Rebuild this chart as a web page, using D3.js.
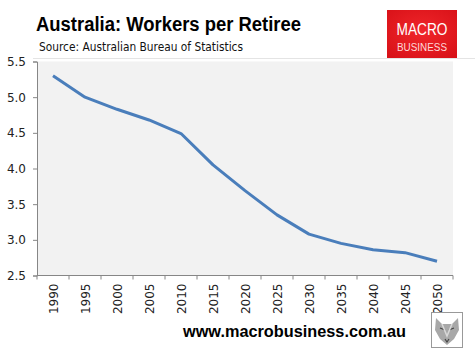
<!DOCTYPE html>
<html><head><meta charset="utf-8">
<script src="https://cdn.jsdelivr.net/npm/d3@7"></script>
<style>html,body{margin:0;padding:0;background:#fff;}svg{display:block;}</style>
</head><body>
<svg id="chart" width="475" height="356"></svg>
<script>
const years = ["1990","1995","2000","2005","2010","2015","2020","2025","2030","2035","2040","2045","2050"];
const workersPerRetiree = [5.3, 5.0, 4.83, 4.68, 4.49, 4.05, 3.69, 3.35, 3.08, 2.95, 2.86, 2.82, 2.70];
const yTicks = [2.5, 3.0, 3.5, 4.0, 4.5, 5.0, 5.5];
const titleText = "Australia: Workers per Retiree";
const sourceText = "Source: Australian Bureau of Statistics";
const footerText = "www.macrobusiness.com.au";

const svg = d3.select("#chart");
const m = {left: 37, right: 453, top: 61.5, bottom: 275.5};

const x = d3.scaleBand().domain(years).range([m.left, m.right]).padding(0);
const y = d3.scaleLinear().domain([2.5, 5.5]).range([m.bottom, m.top]);

// plot background
svg.append("rect").attr("x", m.left).attr("y", m.top).attr("width", m.right - m.left).attr("height", m.bottom - m.top).attr("fill", "#f2f2f2");

// faint separator under header
svg.append("line").attr("x1", 33).attr("x2", 475).attr("y1", 58.5).attr("y2", 58.5).attr("stroke", "#e4e4e4").attr("stroke-width", 1);

// y axis
const yAxis = d3.axisLeft(y).tickValues(yTicks).tickFormat(d3.format(".1f")).tickSize(4).tickPadding(7);
const gy = svg.append("g").attr("transform", `translate(${m.left},0)`).call(yAxis);
gy.select(".domain").attr("stroke", "#868686");
gy.selectAll(".tick line").attr("stroke", "#868686");
gy.selectAll("text").attr("font-family", "'DejaVu Sans', sans-serif").attr("font-size", 12).attr("fill", "#222");

// x axis (category axis with ticks between categories)
const gx = svg.append("g").attr("transform", `translate(0,${m.bottom})`);
gx.append("line").attr("x1", m.left).attr("x2", m.right).attr("stroke", "#868686");
const bounds = years.map(d => x(d)).concat([m.right]);
gx.selectAll("line.tk").data(bounds).join("line").attr("class", "tk")
  .attr("x1", d => d).attr("x2", d => d).attr("y1", 0).attr("y2", 4).attr("stroke", "#868686");
gx.selectAll("text").data(years).join("text")
  .attr("transform", d => `translate(${x(d) + x.bandwidth() / 2 + 4.5},8) rotate(-90)`)
  .attr("text-anchor", "end")
  .attr("font-family", "'DejaVu Sans', sans-serif").attr("font-size", 12).attr("fill", "#222")
  .text(d => d);

// line
const line = d3.line().x((d, i) => x(years[i]) + x.bandwidth() / 2).y(d => y(d));
svg.append("path").datum(workersPerRetiree).attr("d", line)
  .attr("fill", "none").attr("stroke", "#4a7ebb").attr("stroke-width", 3).attr("stroke-linejoin", "round");

// title & source
svg.append("text").attr("x", 36).attr("y", 31).attr("font-family", "'Liberation Sans', Arial, sans-serif")
  .attr("font-weight", "bold").attr("font-size", 20).attr("fill", "#000")
  .attr("textLength", 265).attr("lengthAdjust", "spacingAndGlyphs").text(titleText);
svg.append("text").attr("x", 39).attr("y", 51).attr("font-family", "'DejaVu Sans', sans-serif")
  .attr("font-size", 12).attr("fill", "#111")
  .attr("textLength", 204).attr("lengthAdjust", "spacingAndGlyphs").text(sourceText);

// logo
const grad = svg.append("defs").append("radialGradient").attr("id", "lg").attr("cx", "50%").attr("cy", "45%").attr("r", "70%");
grad.append("stop").attr("offset", "0%").attr("stop-color", "#f0262a");
grad.append("stop").attr("offset", "100%").attr("stop-color", "#d81118");
svg.append("rect").attr("x", 387).attr("y", 10).attr("width", 70).attr("height", 48).attr("fill", "url(#lg)");
svg.append("text").attr("x", 422).attr("y", 35).attr("text-anchor", "middle").attr("font-family", "'Liberation Sans Narrow', 'Liberation Sans', sans-serif")
  .attr("font-size", 17).attr("fill", "#fff").attr("textLength", 51).attr("lengthAdjust", "spacingAndGlyphs").text("MACRO");
svg.append("text").attr("x", 422).attr("y", 51).attr("text-anchor", "middle").attr("font-family", "'Liberation Sans', sans-serif")
  .attr("font-size", 10).attr("fill", "#ffd9d9").attr("textLength", 50).attr("lengthAdjust", "spacingAndGlyphs").text("BUSINESS");

// footer
svg.append("text").attr("x", 183).attr("y", 337).attr("font-family", "'Liberation Sans', Arial, sans-serif")
  .attr("font-weight", "bold").attr("font-size", 17).attr("fill", "#000")
  .attr("textLength", 223).attr("lengthAdjust", "spacingAndGlyphs").text(footerText);

// wolf badge
const wb = svg.append("g").attr("transform", "translate(431,312)");
wb.append("rect").attr("x", 0.5).attr("y", 0.5).attr("width", 31).attr("height", 35).attr("fill", "#fff").attr("stroke", "#999");
wb.append("path").attr("d", "M5,6 L11,12 L21,12 L27,6 L28,18 L23,27 L16,33 L9,27 L4,18 Z").attr("fill", "#a8a8a8");
wb.append("path").attr("d", "M9,16 L14,18 M23,16 L18,18 M14,27 L16,30 L18,27").attr("stroke", "#444").attr("stroke-width", 1.2).attr("fill", "none");
wb.append("path").attr("d", "M11,12 L16,24 L21,12").attr("stroke", "#d8d8d8").attr("stroke-width", 1.5).attr("fill", "none");
</script>
</body></html>
